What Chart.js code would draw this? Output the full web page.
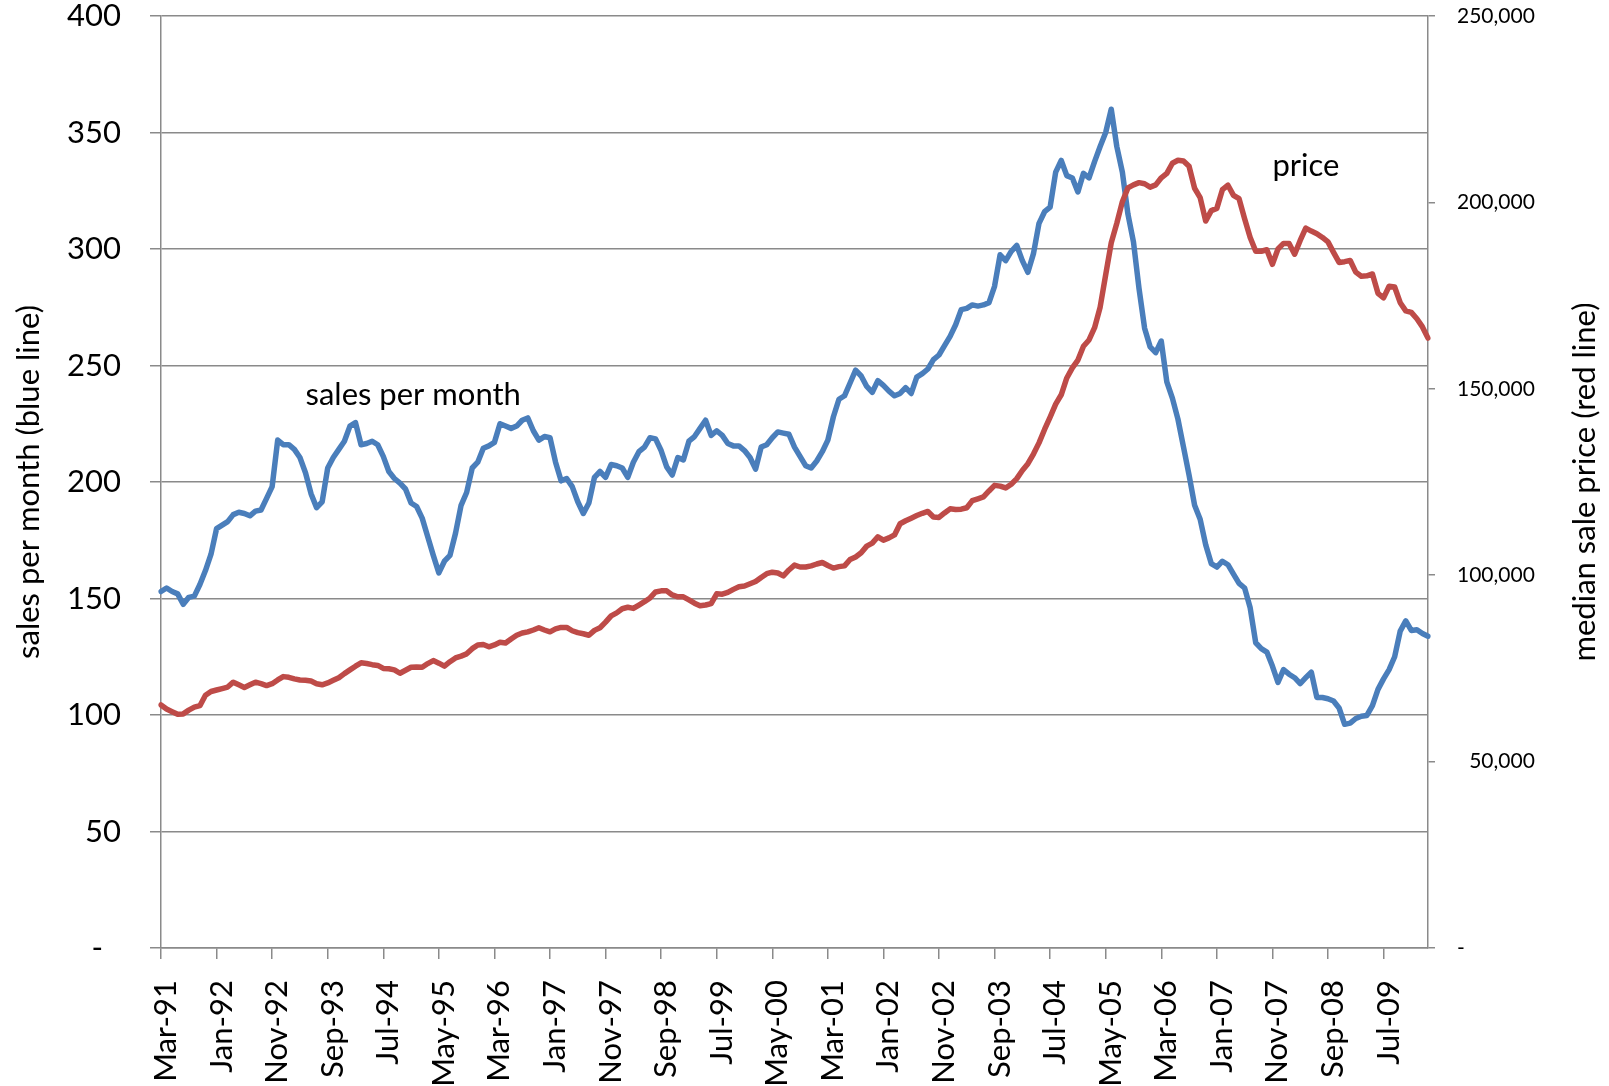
<!DOCTYPE html>
<html>
<head>
<meta charset="utf-8">
<title>Sales per month and median sale price</title>
<script src="https://cdn.jsdelivr.net/npm/chart.js@4.4.0/dist/chart.umd.min.js"></script>
<style>
    html, body { margin: 0; padding: 0; background: #fff; }
    #wrap { width: 1609px; height: 1086px; }
</style>
</head>
<body>
<div id="wrap"><canvas id="chart" width="1609" height="1086"></canvas></div>
<script>
// ===== Data =====
const monthNames = ['Jan', 'Feb', 'Mar', 'Apr', 'May', 'Jun', 'Jul', 'Aug', 'Sep', 'Oct', 'Nov', 'Dec'];
const startYear = 1991;
const startMonth = 2; // Mar-91

// sales per month (left axis)
const sales = [
    153, 154.5, 153, 152, 147.5, 150.5, 151, 156, 162, 169,
    180, 181.5, 183, 186, 187, 186.5, 185.5, 187.5, 188, 193,
    198, 218, 216, 216, 214, 210.5, 204, 195, 189, 191.5,
    206, 210.5, 214, 217.5, 224, 225.5, 216, 216.5, 217.5, 216,
    211, 204.5, 201.5, 199.5, 197, 191, 189.5, 184.5, 176.5, 168.5,
    161, 166, 168.5, 178, 190, 195.5, 206, 208.5, 214.5, 215.5,
    217, 225, 224, 223, 224, 226.5, 227.5, 222, 218, 219.5,
    219, 208.5, 200.5, 201.5, 198, 191.5, 186.5, 191, 202, 204.5,
    202, 207.5, 207, 206, 202, 208.5, 213, 215, 219, 218.5,
    213.5, 206.5, 203, 210.5, 209.5, 217.5, 219.5, 223, 226.5, 220,
    222, 220, 216.5, 215.5, 215.5, 213.5, 210.5, 205.5, 215, 216,
    219, 221.5, 221, 220.5, 215, 211, 207, 206, 209, 213,
    218, 228, 235.5, 237, 242.5, 248, 245.5, 241, 238.5, 243.5,
    241.5, 239, 237, 238, 240.5, 238, 245, 246.5, 248.5, 252.5,
    254.5, 258.5, 262.5, 267.5, 274, 274.5, 276, 275.5, 276, 277,
    284, 297.5, 295, 299, 301.5, 295, 290, 298, 311, 316,
    318, 333, 338, 331.5, 330.5, 324.5, 332.5, 330.5, 337.5, 344,
    350, 360, 344, 333, 315, 303, 283, 266, 258, 255.5,
    260.5, 243, 236, 227, 215, 203, 190, 184, 173, 165,
    163.5, 166, 164.5, 160.5, 156.5, 154.5, 146, 131, 128.5, 127,
    121, 114, 119.5, 117.5, 116, 113.5, 116, 118.4, 107.5, 107.5,
    107, 106, 103, 96, 96.5, 98.5, 99.5, 99.8, 104, 111,
    115.5, 119.5, 125, 136, 140.4, 136.3, 136.6, 135, 133.8
];

// median sale price (right axis)
const price = [
    65200, 64100, 63400, 62700, 62800, 63800, 64600, 65000, 67800, 68800,
    69200, 69600, 70000, 71300, 70600, 69900, 70600, 71300, 70900, 70400,
    70900, 71900, 72800, 72600, 72200, 71900, 71800, 71600, 70900, 70600,
    71100, 71800, 72500, 73600, 74600, 75600, 76500, 76300, 76000, 75800,
    75000, 74900, 74600, 73700, 74500, 75300, 75400, 75300, 76300, 77100,
    76400, 75600, 76800, 77800, 78300, 78900, 80300, 81300, 81400, 80800,
    81300, 82000, 81800, 82900, 83900, 84500, 84800, 85300, 85900, 85300,
    84800, 85600, 86000, 86000, 85100, 84600, 84300, 83900, 85200, 85900,
    87400, 89100, 89900, 91000, 91400, 91100, 92000, 92900, 93900, 95500,
    95800, 95800, 94700, 94200, 94200, 93400, 92500, 91800, 92000, 92400,
    95000, 94900, 95400, 96200, 96900, 97100, 97700, 98300, 99400, 100400,
    100800, 100600, 99800, 101400, 102700, 102200, 102200, 102500, 103000, 103400,
    102600, 101900, 102300, 102500, 104200, 104900, 106000, 107800, 108600, 110300,
    109400, 110000, 110800, 113800, 114600, 115300, 116000, 116600, 117100, 115600,
    115500, 116700, 117800, 117600, 117700, 118100, 120000, 120500, 121000, 122600,
    124100, 123900, 123400, 124400, 125900, 128100, 129900, 132500, 135500, 139100,
    142400, 145900, 148400, 152900, 155600, 157700, 161400, 163100, 166400, 171900,
    180600, 189200, 194400, 200200, 203900, 204700, 205300, 205000, 204100, 204700,
    206600, 207800, 210500, 211300, 211100, 209700, 203800, 201300, 195000, 197800,
    198400, 203400, 204600, 201900, 201000, 195600, 190600, 186900, 186900, 187300,
    183400, 187500, 189000, 189000, 186100, 189800, 193100, 192300, 191600, 190600,
    189400, 186600, 183900, 184100, 184400, 181300, 180200, 180300, 180800, 175600,
    174400, 177500, 177300, 173100, 170900, 170500, 168800, 166600, 163600
];

// labels shown on the category axis
const xTickLabels = ['Mar-91', 'Jan-92', 'Nov-92', 'Sep-93', 'Jul-94', 'May-95', 'Mar-96', 'Jan-97',
    'Nov-97', 'Sep-98', 'Jul-99', 'May-00', 'Mar-01', 'Jan-02', 'Nov-02', 'Sep-03', 'Jul-04',
    'May-05', 'Mar-06', 'Jan-07', 'Nov-07', 'Sep-08', 'Jul-09'];

const salesTicks = [0, 50, 100, 150, 200, 250, 300, 350, 400];
const priceTicks = [0, 50000, 100000, 150000, 200000, 250000];

// text notes placed on the plot (month index, sales-axis value)
const noteText = ['sales per month', 'price'];
const noteMonth = [26, 200];
const noteValue = [233, 331.5];

// ===== Month labels =====
const months = [];
for (let i = 0; i < sales.length; i++) {
    const m = (startMonth + i) % 12;
    const y = (startYear + Math.floor((startMonth + i) / 12)) % 100;
    months.push(monthNames[m] + '-' + String(y).padStart(2, '0'));
}

// ===== Styles =====
const FONT = 'Lato, "Liberation Sans", sans-serif';
const GRID = '#8a8a8a';
const BLUE = '#4a7ebb';
const RED = '#be4b48';
const TEXT = 31;

// keep the plot area where the reference has it
function fixSize(prop, size) {
    return axis => {
        axis[prop] = size;
        axis.paddingTop = 0;
        axis.paddingBottom = 0;
        axis.paddingLeft = 0;
        axis.paddingRight = 0;
    };
}

// ===== Plugins =====
const notesPlugin = {
    id: 'notes',
    afterDatasetsDraw(chart) {
        const ctx = chart.ctx;
        const xs = chart.scales.x;
        const ys = chart.scales.y;
        ctx.save();
        ctx.font = TEXT + 'px ' + FONT;
        ctx.fillStyle = '#000';
        ctx.textAlign = 'left';
        ctx.textBaseline = 'alphabetic';
        noteText.forEach((t, i) => {
            ctx.fillText(t, xs.getPixelForValue(noteMonth[i]), ys.getPixelForValue(noteValue[i]));
        });
        ctx.restore();
    }
};

// right axis title reads bottom to top like the left one
const rightTitlePlugin = {
    id: 'rightTitle',
    afterDraw(chart) {
        const ctx = chart.ctx;
        const s = chart.scales.y2;
        ctx.save();
        ctx.font = TEXT + 'px ' + FONT;
        ctx.fillStyle = '#000';
        ctx.textAlign = 'center';
        ctx.textBaseline = 'middle';
        ctx.translate(s.right - 24, (s.top + s.bottom) / 2);
        ctx.rotate(-Math.PI / 2);
        ctx.fillText('median sale price (red line)', 0, 0);
        ctx.restore();
    }
};

// ===== Chart =====
const ctx = document.getElementById('chart').getContext('2d');
new Chart(ctx, {
    type: 'line',
    data: {
        labels: months,
        datasets: [
            {
                label: 'price',
                data: price,
                yAxisID: 'y2',
                borderColor: RED,
                backgroundColor: RED,
                order: 0
            },
            {
                label: 'sales per month',
                data: sales,
                yAxisID: 'y',
                borderColor: BLUE,
                backgroundColor: BLUE,
                order: 1
            }
        ]
    },
    options: {
        responsive: false,
        animation: false,
        devicePixelRatio: 1,
        layout: { padding: { top: 16, left: 0, right: 0, bottom: 0 } },
        plugins: {
            legend: { display: false },
            tooltip: { enabled: false }
        },
        elements: {
            point: { radius: 0, hoverRadius: 0 },
            line: { tension: 0, borderWidth: 5.5, borderJoinStyle: 'round', borderCapStyle: 'round', fill: false }
        },
        scales: {
            x: {
                type: 'category',
                grid: { drawOnChartArea: false, drawTicks: true, tickLength: 11, color: GRID, lineWidth: 1.5 },
                border: { color: GRID, width: 1.5 },
                ticks: {
                    autoSkip: false,
                    maxRotation: 90,
                    minRotation: 90,
                    padding: 21,
                    labelOffset: 5,
                    color: '#000',
                    font: { family: FONT, size: TEXT, lineHeight: 1.0 }
                },
                afterBuildTicks: axis => {
                    axis.ticks = axis.ticks.filter(t => xTickLabels.includes(months[t.value]));
                },
                afterFit: fixSize('height', 138)
            },
            y: {
                position: 'left',
                min: salesTicks[0],
                max: salesTicks[salesTicks.length - 1],
                grid: { color: GRID, lineWidth: 1.5, drawTicks: true, tickLength: 11 },
                border: { color: GRID, width: 1.5 },
                ticks: {
                    stepSize: salesTicks[1] - salesTicks[0],
                    padding: 29,
                    color: '#000',
                    font: { family: FONT, size: TEXT, lineHeight: 1.0 },
                    callback: v => v === 0 ? '-\u2007' : v
                },
                title: {
                    display: true,
                    text: 'sales per month (blue line)',
                    color: '#000',
                    font: { family: FONT, size: TEXT, lineHeight: 1.2 },
                    padding: { top: 10, bottom: 0 }
                },
                afterFit: fixSize('width', 161)
            },
            y2: {
                position: 'right',
                min: priceTicks[0],
                max: priceTicks[priceTicks.length - 1],
                grid: { drawOnChartArea: false, drawTicks: true, tickLength: 7, color: GRID, lineWidth: 1.5 },
                border: { color: GRID, width: 1.5 },
                ticks: {
                    stepSize: priceTicks[1] - priceTicks[0],
                    padding: 22,
                    color: '#000',
                    font: { family: FONT, size: 21, lineHeight: 1.0 },
                    callback: v => v === 0 ? '-' : v.toLocaleString('en-US').padStart(7, '\u2007')
                },
                afterFit: fixSize('width', 181)
            }
        }
    },
    plugins: [notesPlugin, rightTitlePlugin]
});
</script>
</body>
</html>
